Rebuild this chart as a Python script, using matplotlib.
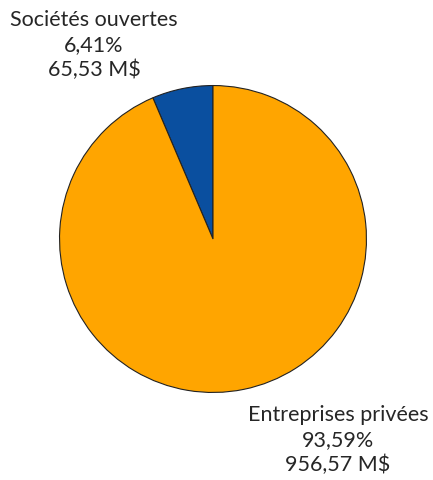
import matplotlib.pyplot as plt

# Répartition par type d'entreprise
categories = ["Sociétés ouvertes", "Entreprises privées"]
pourcentages = [6.41, 93.59]
montants = ["65,53 M$", "956,57 M$"]
couleurs = ["#0A4F9F", "#FFA500"]

plt.rcParams['font.family'] = ['Lato', 'DejaVu Sans']

fig = plt.figure(figsize=(4.33, 4.81), dpi=100)
cx, cy, r = 213, 240, 155
ax = fig.add_axes([(cx - r) / 433, (481 - cy - r) / 481, 2 * r / 433, 2 * r / 481])

ax.pie(pourcentages, colors=couleurs, startangle=90, counterclock=True,
       wedgeprops=dict(edgecolor='#222222', linewidth=0.8))
ax.set_xlim(-1.01, 1.01)
ax.set_ylim(-1.01, 1.01)
ax.set_aspect('equal')

def fmt(p):
    return f"{p:.2f}".replace('.', ',') + "%"

etiquettes = [
    (94, 45, categories[0], pourcentages[0], montants[0]),
    (338, 440, categories[1], pourcentages[1], montants[1]),
]
for x, y, nom, pct, mnt in etiquettes:
    fig.text(x / 433, 1 - y / 481, f"{nom}\n{fmt(pct)}\n{mnt}",
             ha='center', va='center', fontsize=15.5, color='#262626',
             linespacing=1.3)

fig.savefig("out.png", dpi=100)
